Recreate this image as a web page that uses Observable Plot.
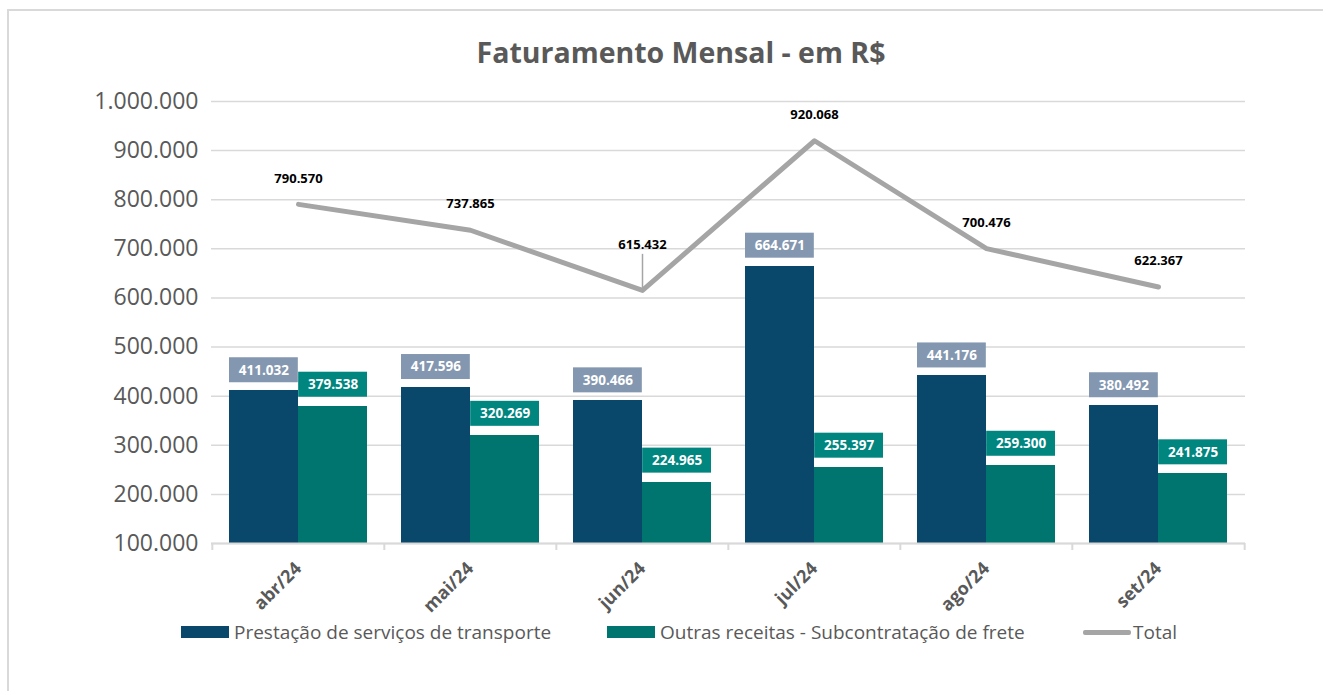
<!DOCTYPE html>
<html><head><meta charset="utf-8">
<script src="https://cdn.jsdelivr.net/npm/d3@7"></script>
<script src="https://cdn.jsdelivr.net/npm/@observablehq/plot@0.6"></script>
<style>
html,body{margin:0;padding:0;background:#fff;overflow:hidden;}
#wrap{position:relative;width:1323px;height:691px;font-family:"Open Sans",sans-serif;overflow:hidden;}
#frame{position:absolute;left:7px;top:9px;width:1340px;height:720px;border:2px solid #D9D9D9;box-sizing:border-box;}
#title{position:absolute;left:0;top:33px;width:1362px;text-align:center;font-size:28.5px;font-weight:bold;color:#595959;line-height:38px;}
#chart{position:absolute;left:0;top:0;}
.leg{position:absolute;top:620px;height:24px;display:flex;align-items:center;font-size:19px;color:#595959;white-space:nowrap;}
.sw{width:48px;height:12px;margin-right:5px;}
.ln{width:48px;height:5px;background:#A5A5A5;margin-right:2px;border-radius:2px;}
</style>
</head><body>
<div id="wrap">
  <div id="frame"></div>
  <div id="chart"></div>
  <div id="title"></div>
  <div class="leg" style="left:181px"><div class="sw" style="background:#09486B"></div><span id="l1"></span></div>
  <div class="leg" style="left:607px"><div class="sw" style="background:#007570"></div><span id="l2"></span></div>
  <div class="leg" style="left:1083px"><div class="ln"></div><span id="l3"></span></div>
</div>
<script>
const months = ["abr/24","mai/24","jun/24","jul/24","ago/24","set/24"];
const transporte = [411032,417596,390466,664671,441176,380492];
const outras = [379538,320269,224965,255397,259300,241875];
const total = [790570,737865,615432,920068,700476,622367];
const yTicks = [100000,200000,300000,400000,500000,600000,700000,800000,900000,1000000];
const seriesNames = ["Prestação de serviços de transporte","Outras receitas - Subcontratação de frete","Total"];
const titleText = "Faturamento Mensal - em R$";

document.getElementById("title").textContent = titleText;
document.getElementById("l1").textContent = seriesNames[0];
document.getElementById("l2").textContent = seriesNames[1];
document.getElementById("l3").textContent = seriesNames[2];

const rows = months.map((m,i)=>({month:m, transporte:transporte[i], outras:outras[i], total:total[i]}));
const fmt = d3.formatLocale({decimal:",",thousands:".",grouping:[3],currency:["R$",""]}).format(",d");

const W=1323, H=600, ML=211, MR=78, MT=101, MB=57;
const bw=(W-ML-MR)/months.length;
const gap=17, barW=(bw-2*gap)/2;
const off = bw/2 - gap - barW/2;
const C1="#09486B", C2="#007570", B1="#8497B0", B2="#00857F";
const base = yTicks[0];

const plot = Plot.plot({
  width:W, height:H, marginLeft:ML, marginRight:MR, marginTop:MT, marginBottom:MB,
  style:{fontFamily:'"Open Sans", sans-serif', background:"transparent", overflow:"visible"},
  x:{domain:months, padding:0, label:null},
  y:{domain:[yTicks[0], yTicks[yTicks.length-1]], label:null},
  marks:[
    Plot.gridY(yTicks, {stroke:"#D9D9D9", strokeOpacity:1, strokeWidth:1.5}),
    Plot.axisY(yTicks, {tickSize:0, tickPadding:13, tickFormat:fmt, fontSize:23, fill:"#595959", label:null}),
    Plot.barY(rows, {x:"month", y:"transporte", fill:C1, insetLeft:gap, insetRight:gap+barW-0.5, clip:true, shapeRendering:"crispEdges"}),
    Plot.barY(rows, {x:"month", y:"outras", fill:C2, insetLeft:gap+barW, insetRight:gap, clip:true, shapeRendering:"crispEdges"}),
    Plot.ruleY([base], {stroke:"#D9D9D9", strokeWidth:2}),
    Plot.ruleX(months, {x:d=>d, dx:-bw/2, y1:()=>base, y2:()=>base, insetBottom:-7, stroke:"#D9D9D9", strokeWidth:2}),
    Plot.ruleX(months.slice(-1), {x:d=>d, dx:bw/2, y1:()=>base, y2:()=>base, insetBottom:-7, stroke:"#D9D9D9", strokeWidth:2}),
    Plot.axisX({tickSize:0, tickPadding:22, tickRotate:-45, fontSize:18, fontWeight:"bold", fill:"#595959", label:null}),
    Plot.barY(rows, {x:"month", y1:"transporte", y2:"transporte", fill:B1, insetLeft:gap, insetRight:gap+barW, insetTop:-33, insetBottom:8}),
    Plot.barY(rows, {x:"month", y1:"outras", y2:"outras", fill:B2, insetLeft:gap+barW, insetRight:gap, insetTop:-34, insetBottom:9}),
    Plot.text(rows, {x:"month", y:"transporte", text:d=>fmt(d.transporte), dx:-off, dy:-20.5, fill:"white", fontWeight:"bold", fontSize:13.5}),
    Plot.text(rows, {x:"month", y:"outras", text:d=>fmt(d.outras), dx:off, dy:-21.5, fill:"white", fontWeight:"bold", fontSize:13.5}),
    Plot.line(rows, {x:"month", y:"total", stroke:"#A5A5A5", strokeWidth:5, strokeLinejoin:"round", strokeLinecap:"round"}),
    Plot.ruleX(rows.filter(d=>d.month==="jun/24"), {x:"month", y1:"total", y2:"total", insetTop:-36, insetBottom:2, stroke:"#A5A5A5", strokeWidth:1.5}),
    Plot.text(rows.filter(d=>d.month!=="jun/24"), {x:"month", y:"total", text:d=>fmt(d.total), dy:-26, fill:"#000", fontWeight:"bold", fontSize:13}),
    Plot.text(rows.filter(d=>d.month==="jun/24"), {x:"month", y:"total", text:d=>fmt(d.total), dy:-46, fill:"#000", fontWeight:"bold", fontSize:13})
  ]
});
document.getElementById("chart").appendChild(plot);
</script>
</body></html>
